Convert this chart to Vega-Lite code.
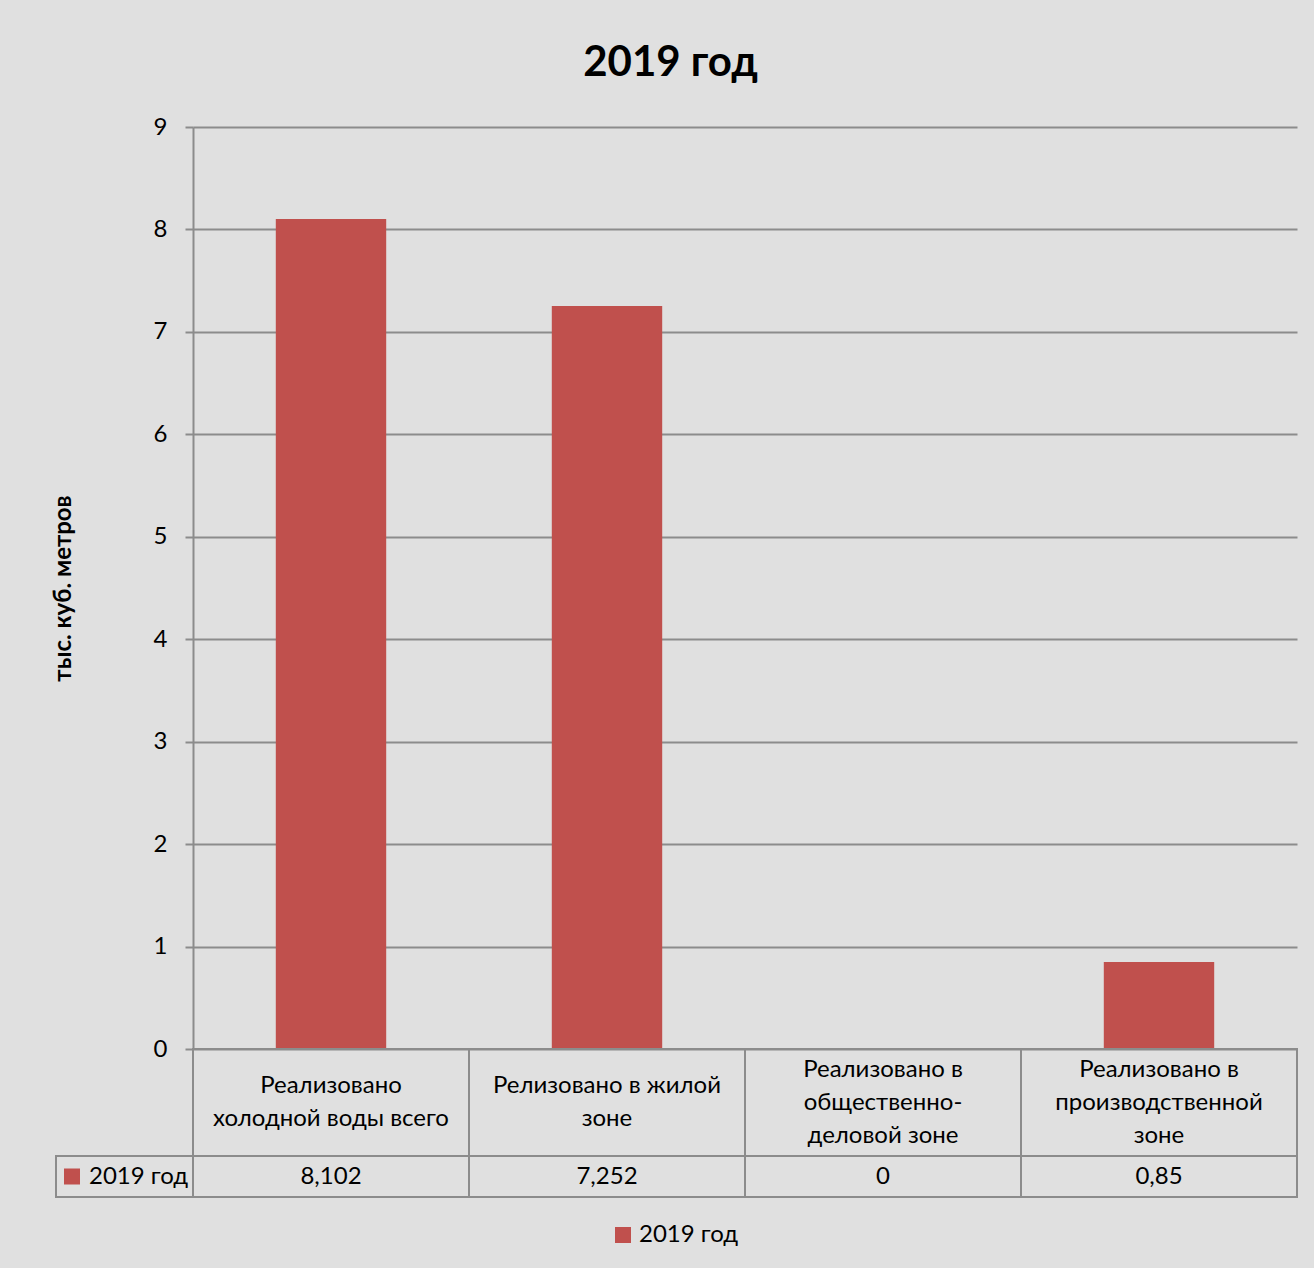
{
  "$schema": "https://vega.github.io/schema/vega-lite/v6.json",
  "background": "#e0e0e0",
  "padding": {"left": 51, "top": 42, "right": 17, "bottom": 16},
  "spacing": 0,
  "bounds": "flush",
  "title": {"text": "2019 год", "fontSize": 42, "fontWeight": "bold", "color": "black", "anchor": "middle", "offset": 30, "dx": -4},
  "datasets": {
    "main": [
      {"category": "Реализовано\nхолодной  воды всего", "lines": 2, "value": 8.102, "series": "2019 год"},
      {"category": "Релизовано в жилой\nзоне", "lines": 2, "value": 7.252, "series": "2019 год"},
      {"category": "Реализовано в\nобщественно-\nделовой зоне", "lines": 3, "value": 0, "series": "2019 год"},
      {"category": "Реализовано в\nпроизводственной\nзоне", "lines": 3, "value": 0.85, "series": "2019 год"}
    ]
  },
  "resolve": {"scale": {"color": "independent"}, "legend": {"color": "independent"}},
  "vconcat": [
    {
      "width": 1104,
      "height": 922,
      "data": {"name": "main"},
      "mark": {"type": "bar", "color": "#c0504d", "width": {"band": 0.4}},
      "encoding": {
        "x": {"field": "category", "type": "nominal", "sort": null, "axis": null, "scale": {"paddingInner": 0, "paddingOuter": 0}},
        "y": {
          "field": "value", "type": "quantitative",
          "scale": {"domain": [0, 9], "nice": false},
          "axis": {
            "title": "тыс. куб. метров",
            "values": [0, 1, 2, 3, 4, 5, 6, 7, 8, 9],
            "grid": true, "gridColor": "#8c8c8c", "gridWidth": 2, "gridOpacity": 1,
            "domainColor": "#8c8c8c", "domainWidth": 2,
            "tickColor": "#8c8c8c", "tickWidth": 2, "tickSize": 8,
            "labelPadding": 18, "labelFontSize": 24, "labelColor": "black",
            "titleFontSize": 24, "titleFontWeight": "bold", "titleColor": "black", "titlePadding": 78
          }
        }
      }
    },
    {
      "width": 1104,
      "height": 107,
      "data": {"name": "main"},
      "encoding": {
        "x": {"field": "category", "type": "nominal", "sort": null, "axis": null, "scale": {"paddingInner": 0, "paddingOuter": 0}}
      },
      "layer": [
        {"mark": {"type": "rect", "fill": "transparent", "stroke": "#8c8c8c", "strokeWidth": 2}},
        {"mark": {"type": "text", "fontSize": 24, "lineBreak": "\n", "lineHeight": 33, "color": "black", "baseline": "middle"},
         "encoding": {
           "y": {"field": "lines", "type": "quantitative", "axis": null, "scale": {"domain": [2, 3], "range": [37, 20.5]}},
           "text": {"field": "category"}
         }}
      ]
    },
    {
      "width": 1104,
      "height": 41,
      "data": {"name": "main"},
      "encoding": {
        "x": {"field": "category", "type": "nominal", "sort": null, "axis": null, "scale": {"paddingInner": 0, "paddingOuter": 0}}
      },
      "layer": [
        {"mark": {"type": "rect", "fill": "transparent", "stroke": "#8c8c8c", "strokeWidth": 2}},
        {"mark": {"type": "text", "fontSize": 24, "color": "black", "baseline": "middle"},
         "encoding": {"text": {"field": "value", "type": "quantitative", "format": "~g"}}},
        {"mark": {"type": "square", "opacity": 0, "size": 256},
         "encoding": {"color": {"field": "series", "type": "nominal", "scale": {"range": ["#c0504d"]},
           "legend": {"title": null, "orient": "left", "offset": 0, "strokeColor": "#8c8c8c", "padding": 4, "clipHeight": 33,
             "symbolType": "square", "symbolSize": 256, "labelFontSize": 24, "labelOffset": 5, "labelColor": "black"}}}}
      ]
    },
    {
      "width": 1104,
      "height": 60,
      "data": {"name": "main"},
      "mark": {"type": "square", "opacity": 0, "size": 256},
      "encoding": {
        "color": {"field": "series", "type": "nominal", "scale": {"range": ["#c0504d"]},
          "legend": {"title": null, "orient": "none", "legendX": 418, "legendY": 26, "padding": 0, "direction": "horizontal",
            "symbolType": "square", "symbolSize": 256, "labelFontSize": 24, "labelOffset": 4, "labelColor": "black"}}
      }
    }
  ],
  "config": {
    "font": "Lato",
    "view": {"stroke": null},
    "legend": {"strokeWidth": 2},
    "locale": {"number": {"decimal": ",", "thousands": " ", "grouping": [3], "currency": ["", " ₽"]}}
  }
}
